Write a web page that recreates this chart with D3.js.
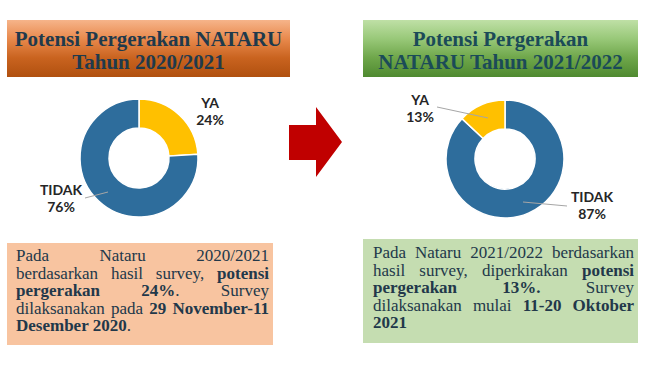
<!DOCTYPE html>
<html>
<head>
<meta charset="utf-8">
<script src="https://cdn.jsdelivr.net/npm/d3@7"></script>
<style>
  body { margin: 0; background: #fff; }
  svg { display: block; }
</style>
</head>
<body>
<svg width="649" height="365"></svg>
<script>
// data
const categories = ["YA", "TIDAK"];
const values2020 = [24, 76];
const values2021 = [13, 87];
const titles2020 = ["Potensi Pergerakan NATARU", "Tahun 2020/2021"];
const titles2021 = ["Potensi Pergerakan", "NATARU Tahun 2021/2022"];
// ** marks bold runs
const notes2020 = [
  "Pada Nataru 2020/2021",
  "berdasarkan hasil survey, **potensi**",
  "**pergerakan 24%**. Survey",
  "dilaksanakan pada **29 November-11**",
  "**Desember 2020**."
];
const notes2021 = [
  "Pada Nataru 2021/2022 berdasarkan",
  "hasil survey, diperkirakan **potensi**",
  "**pergerakan 13%.** Survey",
  "dilaksanakan mulai **11-20 Oktober**",
  "**2021**"
];

var svg = d3.select("svg");
var defs = svg.append("defs");

function grad(id, stops) {
  var g = defs.append("linearGradient").attr("id", id)
    .attr("x1", 0).attr("y1", 0).attr("x2", 0).attr("y2", 1);
  stops.forEach((c, i) => g.append("stop").attr("offset", i / (stops.length - 1)).attr("stop-color", c));
}
grad("orange", ["#f6b48a", "#e8894c", "#c9631f", "#b0500f"]);
grad("green", ["#bfe0a6", "#98c878", "#6ea64a", "#4f8a30"]);

var color = d3.scaleOrdinal().domain(categories).range(["#ffc000", "#2e6d9c"]);

// title boxes
function titleBox(x, y, w, h, fill, txtColor, lines) {
  var g = svg.append("g");
  g.append("rect").attr("x", x).attr("y", y).attr("width", w).attr("height", h).attr("fill", fill);
  g.selectAll("text").data(lines).enter().append("text")
    .attr("x", x + w / 2)
    .attr("y", (d, i) => y + 26 + i * 23)
    .attr("text-anchor", "middle")
    .attr("font-family", "Liberation Serif, serif")
    .attr("font-weight", "bold")
    .attr("font-size", 21)
    .attr("fill", txtColor)
    .text(d => d);
}
titleBox(7, 20, 283, 57, "url(#orange)", "#1f3a4c", titles2020);
titleBox(363, 20, 275, 57, "url(#green)", "#1b4b58", titles2021);

// donuts
function donut(cx, cy, values, order, labels) {
  var data = order.map(i => ({ key: categories[i], value: values[i] }));
  var pie = d3.pie().sort(null).value(d => d.value);
  var arc = d3.arc().innerRadius(30).outerRadius(59);
  var g = svg.append("g").attr("transform", "translate(" + cx + "," + cy + ")");
  g.selectAll("path").data(pie(data)).enter().append("path")
    .attr("d", arc)
    .attr("fill", d => color(d.data.key))
    .attr("stroke", "#fff")
    .attr("stroke-width", 1.5);

  data.forEach(d => {
    var l = labels[d.key];
    if (l.line) {
      svg.append("line")
        .attr("x1", l.line[0]).attr("y1", l.line[1])
        .attr("x2", l.line[2]).attr("y2", l.line[3])
        .attr("stroke", "#a6a6a6").attr("stroke-width", 1);
    }
    var t = svg.append("text")
      .attr("text-anchor", "middle")
      .attr("font-family", "Lato, sans-serif")
      .attr("font-weight", "bold")
      .attr("font-size", 14)
      .attr("fill", "#262626");
    t.append("tspan").attr("x", l.x).attr("y", l.y).text(d.key);
    t.append("tspan").attr("x", l.x).attr("y", l.y + 17).text(d.value + "%");
  });
}

donut(139, 158, values2020, [0, 1], {
  YA: { x: 210, y: 108 },
  TIDAK: { x: 61, y: 195, line: [85, 198, 108, 192] }
});
donut(505, 159, values2021, [1, 0], {
  YA: { x: 420, y: 105, line: [437, 107, 488, 118] },
  TIDAK: { x: 592, y: 202, line: [523, 202, 567, 206] }
});

// arrow
var arrowPts = [[289, 125], [316, 125], [316, 107], [342, 142], [316, 177], [316, 160], [289, 160]];
svg.append("path")
  .attr("d", d3.line()(arrowPts) + "Z")
  .attr("fill", "#c00000");

// note boxes
function parse(line) {
  var words = [[]];
  line.split("**").forEach((part, i) => {
    var bold = i % 2 === 1;
    part.split(" ").forEach((w, j) => {
      if (j > 0) words.push([]);
      if (w) words[words.length - 1].push({ t: w, b: bold });
    });
  });
  return words.filter(w => w.length);
}

function noteBox(x, y, w, h, fill, tx0, tx1, baseline0, lines) {
  svg.append("rect").attr("x", x).attr("y", y).attr("width", w).attr("height", h).attr("fill", fill);
  lines.forEach((line, li) => {
    var words = parse(line);
    var by = baseline0 + li * 17.5;
    var nodes = words.map(word => {
      var t = svg.append("text")
        .attr("y", by)
        .attr("font-family", "Liberation Serif, serif")
        .attr("font-size", 17)
        .attr("fill", "#22384a");
      word.forEach(r => t.append("tspan").attr("font-weight", r.b ? "bold" : "normal").text(r.t));
      return t;
    });
    var widths = nodes.map(n => n.node().getComputedTextLength());
    var total = d3.sum(widths);
    var last = li === lines.length - 1;
    var gap = (!last && nodes.length > 1) ? (tx1 - tx0 - total) / (nodes.length - 1) : 4;
    var xx = tx0;
    nodes.forEach((n, i) => {
      n.attr("x", xx);
      xx += widths[i] + gap;
    });
  });
}

noteBox(7, 243, 266, 102, "#f8c4a0", 16, 269, 261, notes2020);
noteBox(363, 239, 275, 104, "#c5ddb1", 373, 634, 258, notes2021);
</script>
</body>
</html>
